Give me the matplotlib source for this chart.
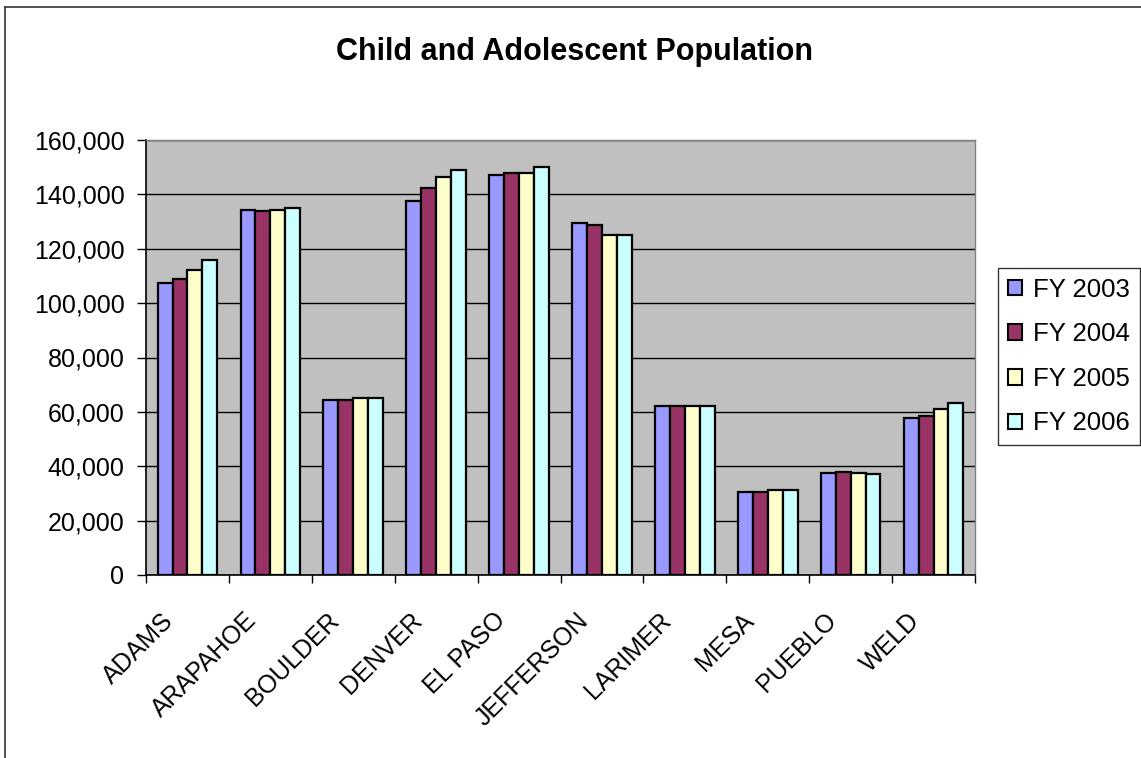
import matplotlib
matplotlib.use("Agg")
import matplotlib.pyplot as plt
import numpy as np
from matplotlib.ticker import FuncFormatter, FixedLocator
from matplotlib.transforms import ScaledTranslation

plt.rcParams['font.family'] = ['Liberation Sans', 'DejaVu Sans']

# County child/adolescent population by fiscal year
counties = ["ADAMS", "ARAPAHOE", "BOULDER", "DENVER", "EL PASO",
            "JEFFERSON", "LARIMER", "MESA", "PUEBLO", "WELD"]
years = ["FY 2003", "FY 2004", "FY 2005", "FY 2006"]
fy2003 = [107500, 134200, 64300, 137500, 147100, 129500, 62100, 30500, 37400, 57600]
fy2004 = [108800, 133800, 64300, 142400, 148000, 128700, 62100, 30500, 37900, 58500]
fy2005 = [112100, 134200, 65000, 146400, 148000, 125000, 62100, 31100, 37700, 60900]
fy2006 = [115800, 135000, 65000, 148900, 150100, 125000, 62100, 31100, 37300, 63200]
colors = ["#9999FF", "#993366", "#FFFFCC", "#CCFFFF"]

series = [fy2003, fy2004, fy2005, fy2006]

fig = plt.figure(figsize=(11.41, 7.58), dpi=100)
ax = fig.add_axes([146 / 1141, 1 - 575 / 758, (975 - 146) / 1141, (575 - 140) / 758])
ax.set_facecolor("#C0C0C0")

x = np.arange(len(counties))
width = 0.18
for i, (vals, col, lab) in enumerate(zip(series, colors, years)):
    ax.bar(x + (i - 1.5) * width, vals, width=width, color=col,
           edgecolor="black", linewidth=1.6, label=lab, zorder=3)

ax.set_ylim(0, 160000)
ax.set_xlim(-0.5, len(counties) - 0.5)
ax.set_yticks(np.arange(0, 160001, 20000))
ax.yaxis.set_major_formatter(FuncFormatter(lambda v, p: f"{int(v):,}"))
ax.yaxis.grid(True, color="black", linewidth=1.0, zorder=1)
ax.set_axisbelow(True)

# category boundaries get the tick marks, labels sit at the centres
ax.xaxis.set_major_locator(FixedLocator(np.arange(-0.5, len(counties), 1.0)))
ax.xaxis.set_major_formatter(FuncFormatter(lambda v, p: ""))
ax.set_xticks(x, minor=True)
ax.set_xticklabels(counties, minor=True, rotation=45, ha="right",
                   va="top", rotation_mode="anchor", fontsize=18)
ax.tick_params(axis="x", which="minor", length=0, pad=24)
ax.tick_params(axis="x", which="major", length=6, width=1, direction="out")
ax.tick_params(axis="y", length=6.5, width=1, direction="out", labelsize=18, pad=9)
for lbl in ax.get_xticklabels(minor=True):
    lbl.set_transform(lbl.get_transform() + ScaledTranslation(-0.26, 0, fig.dpi_scale_trans))

for side in ["top", "right"]:
    ax.spines[side].set_color("#808080")
    ax.spines[side].set_linewidth(1)
for side in ["left", "bottom"]:
    ax.spines[side].set_color("black")
    ax.spines[side].set_linewidth(1.2)

fig.text(575 / 1141, 1 - 52 / 758, "Child and Adolescent Population",
         ha="center", va="center", fontsize=22, fontweight="bold")

leg = ax.legend(loc="upper left", bbox_to_anchor=(998 / 1141, 1 - 268 / 758),
                bbox_transform=fig.transFigure, fontsize=18.5, frameon=True,
                fancybox=False, edgecolor="black", handlelength=0.55,
                handleheight=0.55, handletextpad=0.45, labelspacing=0.8,
                borderpad=0.38, borderaxespad=0)
leg.get_frame().set_linewidth(1)
for h in leg.legend_handles:
    h.set_linewidth(1.5)

# outer chart border (left and top only visible in the original)
fig.add_artist(plt.Line2D([5 / 1141, 5 / 1141], [0, 1 - 7 / 758],
                          transform=fig.transFigure, color="#333333", linewidth=1.2))
fig.add_artist(plt.Line2D([5 / 1141, 1], [1 - 7 / 758, 1 - 7 / 758],
                          transform=fig.transFigure, color="#333333", linewidth=1.2))

fig.savefig("out.png", dpi=100)
